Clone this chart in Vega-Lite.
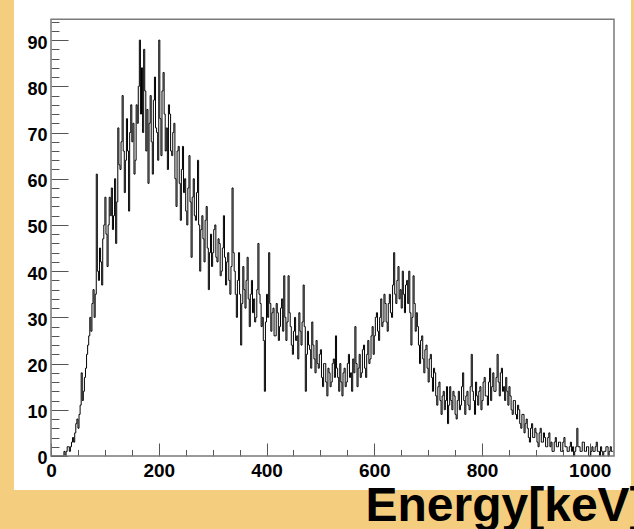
{
  "$schema": "https://vega.github.io/schema/vega-lite/v6.json",
  "width": 617,
  "height": 490,
  "autosize": {"type": "none"},
  "padding": {"left": 14, "top": 0, "right": 3, "bottom": 39},
  "background": "#f5cd7e",
  "config": {"view": {"fill": "white", "stroke": null}, "font": "Liberation Sans"},
  "datasets": {
    "h": [
      {"E":0,"c":0},{"E":2,"c":0},{"E":4,"c":0},{"E":6,"c":0},{"E":8,"c":0},{"E":10,"c":0},{"E":12,"c":0},{"E":14,"c":0},{"E":16,"c":0},{"E":18,"c":0},
      {"E":20,"c":0},{"E":22,"c":0},{"E":24,"c":1},{"E":26,"c":0},{"E":28,"c":1},{"E":30,"c":2},{"E":32,"c":2},{"E":34,"c":1},{"E":36,"c":2},{"E":38,"c":3},
      {"E":40,"c":4},{"E":42,"c":3},{"E":44,"c":5},{"E":46,"c":7},{"E":48,"c":8},{"E":50,"c":6},{"E":52,"c":9},{"E":54,"c":11},{"E":56,"c":18},{"E":58,"c":12},
      {"E":60,"c":14},{"E":62,"c":17},{"E":64,"c":19},{"E":66,"c":22},{"E":68,"c":24},{"E":70,"c":26},{"E":72,"c":30},{"E":74,"c":27},{"E":76,"c":33},{"E":78,"c":36},
      {"E":80,"c":30},{"E":82,"c":35},{"E":84,"c":61},{"E":86,"c":40},{"E":88,"c":38},{"E":90,"c":45},{"E":92,"c":42},{"E":94,"c":37},{"E":96,"c":47},{"E":98,"c":50},
      {"E":100,"c":56},{"E":102,"c":48},{"E":104,"c":41},{"E":106,"c":50},{"E":108,"c":56},{"E":110,"c":52},{"E":112,"c":58},{"E":114,"c":49},{"E":116,"c":52},{"E":118,"c":60},
      {"E":120,"c":46},{"E":122,"c":55},{"E":124,"c":71},{"E":126,"c":63},{"E":128,"c":62},{"E":130,"c":68},{"E":132,"c":78},{"E":134,"c":66},{"E":136,"c":57},{"E":138,"c":64},
      {"E":140,"c":73},{"E":142,"c":66},{"E":144,"c":53},{"E":146,"c":70},{"E":148,"c":76},{"E":150,"c":68},{"E":152,"c":72},{"E":154,"c":61},{"E":156,"c":64},{"E":158,"c":76},
      {"E":160,"c":72},{"E":162,"c":80},{"E":164,"c":90},{"E":166,"c":74},{"E":168,"c":84},{"E":170,"c":70},{"E":172,"c":88},{"E":174,"c":79},{"E":176,"c":66},{"E":178,"c":75},
      {"E":180,"c":59},{"E":182,"c":72},{"E":184,"c":78},{"E":186,"c":68},{"E":188,"c":61},{"E":190,"c":77},{"E":192,"c":82},{"E":194,"c":71},{"E":196,"c":70},{"E":198,"c":64},
      {"E":200,"c":90},{"E":202,"c":73},{"E":204,"c":65},{"E":206,"c":79},{"E":208,"c":83},{"E":210,"c":74},{"E":212,"c":66},{"E":214,"c":71},{"E":216,"c":62},{"E":218,"c":76},
      {"E":220,"c":74},{"E":222,"c":66},{"E":224,"c":65},{"E":226,"c":70},{"E":228,"c":72},{"E":230,"c":60},{"E":232,"c":54},{"E":234,"c":66},{"E":236,"c":67},{"E":238,"c":59},
      {"E":240,"c":51},{"E":242,"c":62},{"E":244,"c":67},{"E":246,"c":57},{"E":248,"c":60},{"E":250,"c":53},{"E":252,"c":50},{"E":254,"c":58},{"E":256,"c":65},{"E":258,"c":55},
      {"E":260,"c":43},{"E":262,"c":56},{"E":264,"c":60},{"E":266,"c":52},{"E":268,"c":51},{"E":270,"c":57},{"E":272,"c":64},{"E":274,"c":50},{"E":276,"c":40},{"E":278,"c":49},
      {"E":280,"c":52},{"E":282,"c":47},{"E":284,"c":42},{"E":286,"c":51},{"E":288,"c":54},{"E":290,"c":45},{"E":292,"c":36},{"E":294,"c":44},{"E":296,"c":48},{"E":298,"c":41},
      {"E":300,"c":44},{"E":302,"c":49},{"E":304,"c":50},{"E":306,"c":43},{"E":308,"c":42},{"E":310,"c":47},{"E":312,"c":46},{"E":314,"c":39},{"E":316,"c":40},{"E":318,"c":45},
      {"E":320,"c":52},{"E":322,"c":43},{"E":324,"c":37},{"E":326,"c":42},{"E":328,"c":44},{"E":330,"c":38},{"E":332,"c":35},{"E":334,"c":41},{"E":336,"c":58},{"E":338,"c":44},
      {"E":340,"c":40},{"E":342,"c":35},{"E":344,"c":30},{"E":346,"c":38},{"E":348,"c":44},{"E":350,"c":35},{"E":352,"c":24},{"E":354,"c":33},{"E":356,"c":41},{"E":358,"c":36},
      {"E":360,"c":32},{"E":362,"c":38},{"E":364,"c":43},{"E":366,"c":34},{"E":368,"c":28},{"E":370,"c":35},{"E":372,"c":38},{"E":374,"c":31},{"E":376,"c":34},{"E":378,"c":29},
      {"E":380,"c":30},{"E":382,"c":36},{"E":384,"c":46},{"E":386,"c":35},{"E":388,"c":33},{"E":390,"c":28},{"E":392,"c":30},{"E":394,"c":25},{"E":396,"c":14},{"E":398,"c":29},
      {"E":400,"c":35},{"E":402,"c":30},{"E":404,"c":44},{"E":406,"c":33},{"E":408,"c":27},{"E":410,"c":31},{"E":412,"c":32},{"E":414,"c":26},{"E":416,"c":26},{"E":418,"c":33},
      {"E":420,"c":31},{"E":422,"c":25},{"E":424,"c":28},{"E":426,"c":32},{"E":428,"c":34},{"E":430,"c":27},{"E":432,"c":39},{"E":434,"c":30},{"E":436,"c":25},{"E":438,"c":29},
      {"E":440,"c":39},{"E":442,"c":31},{"E":444,"c":28},{"E":446,"c":24},{"E":448,"c":22},{"E":450,"c":27},{"E":452,"c":30},{"E":454,"c":25},{"E":456,"c":26},{"E":458,"c":21},
      {"E":460,"c":31},{"E":462,"c":27},{"E":464,"c":24},{"E":466,"c":29},{"E":468,"c":37},{"E":470,"c":28},{"E":472,"c":14},{"E":474,"c":22},{"E":476,"c":27},{"E":478,"c":24},
      {"E":480,"c":23},{"E":482,"c":19},{"E":484,"c":29},{"E":486,"c":24},{"E":488,"c":21},{"E":490,"c":18},{"E":492,"c":25},{"E":494,"c":20},{"E":496,"c":19},{"E":498,"c":22},
      {"E":500,"c":23},{"E":502,"c":17},{"E":504,"c":15},{"E":506,"c":20},{"E":508,"c":20},{"E":510,"c":16},{"E":512,"c":13},{"E":514,"c":19},{"E":516,"c":18},{"E":518,"c":15},
      {"E":520,"c":16},{"E":522,"c":20},{"E":524,"c":21},{"E":526,"c":17},{"E":528,"c":26},{"E":530,"c":19},{"E":532,"c":17},{"E":534,"c":14},{"E":536,"c":20},{"E":538,"c":16},
      {"E":540,"c":13},{"E":542,"c":18},{"E":544,"c":19},{"E":546,"c":15},{"E":548,"c":16},{"E":550,"c":20},{"E":552,"c":22},{"E":554,"c":17},{"E":556,"c":18},{"E":558,"c":14},
      {"E":560,"c":21},{"E":562,"c":18},{"E":564,"c":28},{"E":566,"c":20},{"E":568,"c":15},{"E":570,"c":19},{"E":572,"c":22},{"E":574,"c":17},{"E":576,"c":18},{"E":578,"c":23},
      {"E":580,"c":24},{"E":582,"c":19},{"E":584,"c":17},{"E":586,"c":22},{"E":588,"c":25},{"E":590,"c":20},{"E":592,"c":21},{"E":594,"c":26},{"E":596,"c":28},{"E":598,"c":22},
      {"E":600,"c":26},{"E":602,"c":30},{"E":604,"c":31},{"E":606,"c":27},{"E":608,"c":25},{"E":610,"c":30},{"E":612,"c":34},{"E":614,"c":28},{"E":616,"c":29},{"E":618,"c":35},
      {"E":620,"c":33},{"E":622,"c":29},{"E":624,"c":27},{"E":626,"c":33},{"E":628,"c":35},{"E":630,"c":31},{"E":632,"c":30},{"E":634,"c":37},{"E":636,"c":44},{"E":638,"c":35},
      {"E":640,"c":33},{"E":642,"c":38},{"E":644,"c":41},{"E":646,"c":34},{"E":648,"c":36},{"E":650,"c":32},{"E":652,"c":40},{"E":654,"c":35},{"E":656,"c":31},{"E":658,"c":37},
      {"E":660,"c":38},{"E":662,"c":33},{"E":664,"c":40},{"E":666,"c":31},{"E":668,"c":24},{"E":670,"c":30},{"E":672,"c":39},{"E":674,"c":33},{"E":676,"c":27},{"E":678,"c":31},
      {"E":680,"c":28},{"E":682,"c":24},{"E":684,"c":20},{"E":686,"c":25},{"E":688,"c":26},{"E":690,"c":21},{"E":692,"c":18},{"E":694,"c":23},{"E":696,"c":24},{"E":698,"c":19},
      {"E":700,"c":16},{"E":702,"c":21},{"E":704,"c":22},{"E":706,"c":17},{"E":708,"c":14},{"E":710,"c":19},{"E":712,"c":18},{"E":714,"c":13},{"E":716,"c":11},{"E":718,"c":15},
      {"E":720,"c":16},{"E":722,"c":12},{"E":724,"c":9},{"E":726,"c":13},{"E":728,"c":14},{"E":730,"c":10},{"E":732,"c":12},{"E":734,"c":15},{"E":736,"c":7},{"E":738,"c":11},
      {"E":740,"c":15},{"E":742,"c":12},{"E":744,"c":10},{"E":746,"c":14},{"E":748,"c":13},{"E":750,"c":9},{"E":752,"c":8},{"E":754,"c":12},{"E":756,"c":14},{"E":758,"c":10},
      {"E":760,"c":11},{"E":762,"c":15},{"E":764,"c":18},{"E":766,"c":12},{"E":768,"c":9},{"E":770,"c":13},{"E":772,"c":14},{"E":774,"c":11},{"E":776,"c":10},{"E":778,"c":15},
      {"E":780,"c":22},{"E":782,"c":14},{"E":784,"c":12},{"E":786,"c":9},{"E":788,"c":16},{"E":790,"c":13},{"E":792,"c":11},{"E":794,"c":14},{"E":796,"c":15},{"E":798,"c":10},
      {"E":800,"c":12},{"E":802,"c":16},{"E":804,"c":17},{"E":806,"c":13},{"E":808,"c":13},{"E":810,"c":11},{"E":812,"c":16},{"E":814,"c":19},{"E":816,"c":12},{"E":818,"c":15},
      {"E":820,"c":18},{"E":822,"c":14},{"E":824,"c":14},{"E":826,"c":17},{"E":828,"c":22},{"E":830,"c":16},{"E":832,"c":13},{"E":834,"c":18},{"E":836,"c":19},{"E":838,"c":14},
      {"E":840,"c":15},{"E":842,"c":12},{"E":844,"c":17},{"E":846,"c":14},{"E":848,"c":11},{"E":850,"c":15},{"E":852,"c":13},{"E":854,"c":10},{"E":856,"c":9},{"E":858,"c":12},
      {"E":860,"c":12},{"E":862,"c":9},{"E":864,"c":8},{"E":866,"c":11},{"E":868,"c":10},{"E":870,"c":7},{"E":872,"c":6},{"E":874,"c":9},{"E":876,"c":9},{"E":878,"c":5},
      {"E":880,"c":7},{"E":882,"c":8},{"E":884,"c":6},{"E":886,"c":4},{"E":888,"c":3},{"E":890,"c":6},{"E":892,"c":7},{"E":894,"c":4},{"E":896,"c":4},{"E":898,"c":6},
      {"E":900,"c":5},{"E":902,"c":3},{"E":904,"c":2},{"E":906,"c":5},{"E":908,"c":6},{"E":910,"c":3},{"E":912,"c":3},{"E":914,"c":5},{"E":916,"c":4},{"E":918,"c":2},
      {"E":920,"c":2},{"E":922,"c":4},{"E":924,"c":5},{"E":926,"c":2},{"E":928,"c":3},{"E":930,"c":1},{"E":932,"c":1},{"E":934,"c":3},{"E":936,"c":4},{"E":938,"c":2},
      {"E":940,"c":2},{"E":942,"c":3},{"E":944,"c":3},{"E":946,"c":1},{"E":948,"c":1},{"E":950,"c":3},{"E":952,"c":4},{"E":954,"c":2},{"E":956,"c":2},{"E":958,"c":1},
      {"E":960,"c":1},{"E":962,"c":2},{"E":964,"c":3},{"E":966,"c":1},{"E":968,"c":2},{"E":970,"c":0},{"E":972,"c":1},{"E":974,"c":2},{"E":976,"c":6},{"E":978,"c":2},
      {"E":980,"c":2},{"E":982,"c":1},{"E":984,"c":1},{"E":986,"c":3},{"E":988,"c":3},{"E":990,"c":1},{"E":992,"c":1},{"E":994,"c":2},{"E":996,"c":2},{"E":998,"c":0},
      {"E":1000,"c":0},{"E":1002,"c":1},{"E":1004,"c":2},{"E":1006,"c":1},{"E":1008,"c":1},{"E":1010,"c":2},{"E":1012,"c":3},{"E":1014,"c":1},{"E":1016,"c":1},{"E":1018,"c":0},
      {"E":1020,"c":2},{"E":1022,"c":1},{"E":1024,"c":0},{"E":1026,"c":1},{"E":1028,"c":1},{"E":1030,"c":2},{"E":1032,"c":2},{"E":1034,"c":0},{"E":1036,"c":1},{"E":1038,"c":2},
      {"E":1040,"c":1},{"E":1042,"c":1},{"E":1044,"c":1}
    ]
  },
  "layer": [
    {
      "data": {"name": "h"},
      "mark": {"type": "line", "interpolate": "step-after", "color": "black", "strokeWidth": 1},
      "encoding": {
        "x": {
          "field": "E", "type": "quantitative",
          "scale": {"domain": [-68.68, 1076.55], "nice": false, "zero": false},
          "axis": {
            "orient": "bottom", "offset": -34, "values": [0, 200, 400, 600, 800, 1000],
            "domain": false, "grid": false, "tickSize": -13, "tickColor": "#555", "tickWidth": 1,
            "labelFont": "Liberation Sans", "labelFontWeight": "bold", "labelFontSize": 19, "labelColor": "black",
            "labelPadding": 18, "labelBaseline": "top", "labelAlign": "center", "labelOverlap": false, "labelFlush": false, "format": "d",
            "title": "Energy[keV]", "titleFont": "Liberation Sans", "titleFontSize": 48, "titleFontWeight": "bold", "titleColor": "black",
            "titleX": 351, "titleY": 64, "titleAlign": "left", "titleBaseline": "alphabetic", "titleAngle": 0
          }
        },
        "y": {
          "field": "c", "type": "quantitative",
          "scale": {"domain": [-7.36, 98.68], "nice": false, "zero": false},
          "axis": {
            "orient": "left", "offset": -37, "values": [0, 10, 20, 30, 40, 50, 60, 70, 80, 90],
            "domain": false, "grid": false, "tickSize": -17, "tickColor": "#555", "tickWidth": 1,
            "labelFont": "Liberation Sans", "labelFontWeight": "bold", "labelFontSize": 18, "labelColor": "black",
            "labelPadding": 21, "labelAlign": "right", "labelBaseline": "middle", "labelOffset": 3, "labelOverlap": false, "labelFlush": false, "format": "d",
            "title": null
          }
        }
      }
    },
    {
      "data": {"values": []},
      "mark": {"type": "point", "opacity": 0},
      "encoding": {
        "x": {
          "field": "E", "type": "quantitative",
          "scale": {"domain": [-68.68, 1076.55], "nice": false, "zero": false},
          "axis": {
            "orient": "bottom", "offset": -34, "values": [50, 100, 150, 250, 300, 350, 450, 500, 550, 650, 700, 750, 850, 900, 950],
            "domain": false, "grid": false, "labels": false, "tickSize": -6.5, "tickColor": "#555", "tickWidth": 1, "title": null
          }
        },
        "y": {
          "field": "c", "type": "quantitative",
          "scale": {"domain": [-7.36, 98.68], "nice": false, "zero": false},
          "axis": {
            "orient": "left", "offset": -37,
            "values": [2, 4, 6, 8, 12, 14, 16, 18, 22, 24, 26, 28, 32, 34, 36, 38, 42, 44, 46, 48, 52, 54, 56, 58, 62, 64, 66, 68, 72, 74, 76, 78, 82, 84, 86, 88, 92, 94],
            "domain": false, "grid": false, "labels": false, "tickSize": -8, "tickColor": "#555", "tickWidth": 1, "title": null
          }
        }
      }
    },
    {
      "data": {"values": [{}]},
      "mark": {"type": "rect", "filled": false, "stroke": "#7a7a7a", "strokeWidth": 1.5},
      "encoding": {
        "x": {"datum": 0, "type": "quantitative", "axis": null},
        "x2": {"datum": 1045},
        "y": {"datum": 0, "type": "quantitative", "axis": null},
        "y2": {"datum": 94.5}
      }
    }
  ],
  "resolve": {"axis": {"x": "independent", "y": "independent"}}
}
